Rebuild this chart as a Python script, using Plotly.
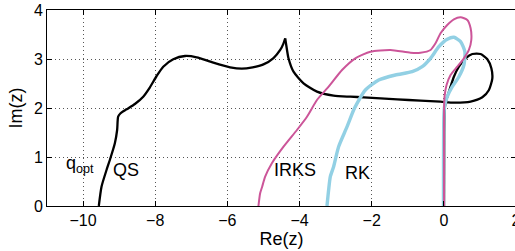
import plotly.graph_objects as go

# QS (q_opt) stability boundary
qs_re = [-9.564, -9.489, -9.350, -9.258, -9.119, -9.056, -9.028, -8.961, -8.794, -8.564,
         -8.333, -8.147, -7.961, -7.778, -7.5, -7.175, -6.85, -6.389, -5.925, -5.6,
         -5.3, -5.0, -4.722, -4.536, -4.444, -4.397, -4.369, -4.306, -4.167, -3.889,
         -3.517, -3.056, -2.592, -2.222, -1.294, -0.647, -0.092, 0.278, 0.742, 1.067,
         1.25, 1.344, 1.317, 1.206, 1.019, 0.789, 0.603, 0.417, 0.278, 0.186,
         0.111, 0.047, 0.02, 0.01, 0.005]
qs_im = [0.0, 0.394, 0.735, 0.939, 1.280, 1.551, 1.822, 1.892, 1.973, 2.082,
         2.231, 2.422, 2.653, 2.843, 2.994, 3.061, 3.035, 2.924, 2.831, 2.802,
         2.83, 2.89, 3.02, 3.184, 3.320, 3.422, 3.286, 3.014, 2.741, 2.504,
         2.333, 2.251, 2.231, 2.218, 2.178, 2.149, 2.129, 2.108, 2.129, 2.218,
         2.367, 2.606, 2.810, 2.994, 3.102, 3.102, 3.014, 2.843, 2.639, 2.435,
         2.265, 2.096, 1.959, 1.5, 0.0]
qs_cusp = 25  # index of the cusp point

# IRKS stability boundary
irks_re = [-5.139, -5.092, -5.036, -4.953, -4.767, -4.444, -4.072, -3.794, -3.517, -3.194,
           -2.822, -2.453, -2.036, -1.481, -0.925, -0.647, -0.369, -0.231, -0.092, 0.094,
           0.278, 0.464, 0.65, 0.742, 0.761, 0.694, 0.556, 0.372, 0.186, 0.075,
           0.019, 0.005, 0.005, 0.005]
irks_im = [0.0, 0.259, 0.394, 0.598, 0.871, 1.210, 1.551, 1.822, 2.163, 2.435,
           2.776, 3.014, 3.149, 3.184, 3.129, 3.129, 3.184, 3.320, 3.524, 3.694,
           3.810, 3.851, 3.796, 3.627, 3.388, 3.184, 3.014, 2.843, 2.673, 2.469,
           2.231, 1.959, 1.14, 0.0]

# RK stability boundary
rk_re = [-3.239, -3.194, -3.147, -3.056, -2.917, -2.683, -2.5, -2.406, -2.175, -1.806,
         -1.342, -0.878, -0.6, -0.369, -0.139, 0.094, 0.278, 0.464, 0.583, 0.556,
         0.417, 0.233, 0.094, 0.019, 0.0, -0.01]
rk_im = [0.0, 0.327, 0.598, 0.802, 1.210, 1.618, 1.959, 2.096, 2.367, 2.571,
         2.673, 2.741, 2.843, 3.014, 3.251, 3.402, 3.443, 3.353, 3.149, 2.878,
         2.639, 2.435, 2.231, 2.027, 1.822, 0.0]

x_ticks = [-10, -8, -6, -4, -2, 0, 2]
y_ticks = [0, 1, 2, 3, 4]

FONT = "Liberation Sans, Arial, sans-serif"

fig = go.Figure()
qs_line = dict(color="#000000", width=2.3, shape="spline", smoothing=0.6)
fig.add_trace(go.Scatter(x=qs_re[:qs_cusp + 1], y=qs_im[:qs_cusp + 1], mode="lines",
                         line=qs_line, showlegend=False))
fig.add_trace(go.Scatter(x=qs_re[qs_cusp:], y=qs_im[qs_cusp:], mode="lines",
                         line=qs_line, showlegend=False))
fig.add_trace(go.Scatter(x=rk_re, y=rk_im, mode="lines",
                         line=dict(color="#92d0e4", width=3.4, shape="spline", smoothing=0.6),
                         showlegend=False))
fig.add_trace(go.Scatter(x=irks_re, y=irks_im, mode="lines",
                         line=dict(color="#cc5599", width=2, shape="spline", smoothing=0.6),
                         showlegend=False))

labels = [("QS", -8.81, 0.735), ("IRKS", -4.13, 0.735), ("RK", -2.38, 0.67)]
for txt, xv, yv in labels:
    fig.add_annotation(x=xv, y=yv, text=txt, showarrow=False,
                       font=dict(family=FONT, size=18, color="#000"),
                       xanchor="center", yanchor="middle")
fig.add_annotation(x=-10.52, y=0.84, text="q<sub>opt</sub>", showarrow=False,
                   font=dict(family=FONT, size=18, color="#000"),
                   xanchor="left", yanchor="middle")

axis_common = dict(showline=True, linecolor="#000", linewidth=1, mirror="ticks",
                   ticks="inside", ticklen=5, tickcolor="#000",
                   showgrid=True, gridcolor="#555555", griddash="1px,3px", gridwidth=1,
                   zeroline=False, automargin=False, ticklabeloverflow="allow",
                   tickfont=dict(family=FONT, size=16, color="#000"))

fig.update_xaxes(range=[-11, 2], tickvals=x_ticks,
                 ticktext=["\u2212" + str(-v) if v < 0 else str(v) for v in x_ticks],
                 title=dict(text="Re(z)", font=dict(family=FONT, size=18, color="#000"), standoff=0),
                 **axis_common)
fig.update_yaxes(range=[0, 4], tickvals=y_ticks,
                 title=dict(text="Im(z)", font=dict(family=FONT, size=18, color="#000"), standoff=6),
                 **axis_common)

fig.update_layout(width=516, height=251, margin=dict(l=47, r=0, t=10, b=45),
                  plot_bgcolor="#ffffff", paper_bgcolor="#ffffff")

fig.write_html("out.html", config={"displayModeBar": False},
               post_script="document.body.style.margin='0';document.body.style.overflow='hidden';")
